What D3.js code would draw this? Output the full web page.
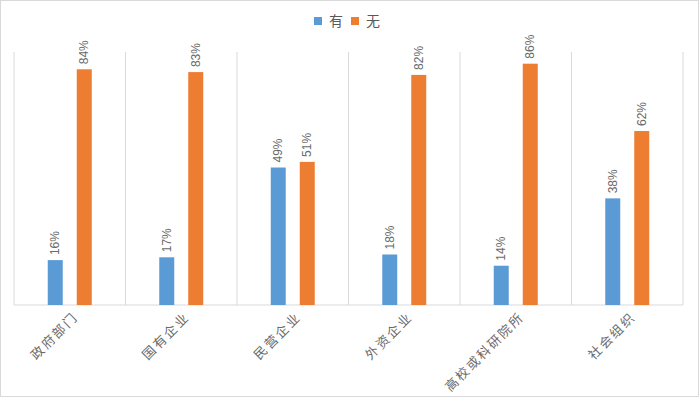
<!DOCTYPE html>
<html>
<head>
<meta charset="utf-8">
<script src="https://cdn.jsdelivr.net/npm/d3@7"></script>
<style>
  body { margin: 0; background: #fff; }
  text { fill: #595959; }
</style>
</head>
<body>
<div id="chart"></div>
<script>
// categories and two series (percent)
const categories = ["政府部门", "国有企业", "民营企业", "外资企业", "高校或科研院所", "社会组织"];
const seriesNames = ["有", "无"];
const youValues = [16, 17, 49, 18, 14, 38];
const wuValues = [84, 83, 51, 82, 86, 62];
const colors = ["#5B9BD5", "#ED7D31"];

const width = 700, height = 398;
const left = 14, right = 683, bottom = 305, gridTop = 52;

let svg = d3.select("#chart").append("svg")
    .attr("width", width)
    .attr("height", height);

// outer frame
svg.append("rect")
    .attr("x", 0.5).attr("y", 0.5)
    .attr("width", width - 2).attr("height", height - 2)
    .attr("fill", "#fff")
    .attr("stroke", "#d9d9d9");

let x = d3.scaleBand()
    .domain(categories)
    .range([left, right])
    .padding(0);

let x1 = d3.scaleBand()
    .domain(seriesNames)
    .range([0, x.bandwidth()])
    .paddingInner(0.483)
    .paddingOuter(1.164);

let y = d3.scaleLinear()
    .domain([0, 100])
    .range([bottom, bottom - 280.6]);

// vertical separators between categories
let seps = [left].concat(categories.map(c => x(c) + x.bandwidth()));
svg.selectAll(".sep")
    .data(seps)
    .enter().append("line")
    .attr("class", "sep")
    .attr("x1", d => d).attr("x2", d => d)
    .attr("y1", gridTop).attr("y2", bottom)
    .attr("stroke", "#d9d9d9");

svg.append("line")
    .attr("x1", left).attr("x2", right)
    .attr("y1", bottom).attr("y2", bottom)
    .attr("stroke", "#d9d9d9");

let rows = categories.map((c, i) => ({cat: c, vals: [youValues[i], wuValues[i]]}));

let groups = svg.selectAll(".grp")
    .data(rows)
    .enter().append("g")
    .attr("class", "grp")
    .attr("transform", d => "translate(" + x(d.cat) + ",0)");

let bars = groups.selectAll(".bar")
    .data(d => d.vals.map((v, j) => ({name: seriesNames[j], v: v, j: j})))
    .enter();

bars.append("rect")
    .attr("class", "bar")
    .attr("x", d => x1(d.name))
    .attr("width", x1.bandwidth())
    .attr("y", d => y(d.v))
    .attr("height", d => bottom - y(d.v))
    .attr("fill", d => colors[d.j]);

bars.append("text")
    .attr("transform", d => "translate(" + (x1(d.name) + x1.bandwidth() / 2 + 4) + "," + (y(d.v) - 5) + ")rotate(-90)")
    .attr("font-family", "'Liberation Sans Narrow', 'Liberation Sans', sans-serif")
    .attr("font-size", 12)
    .style("fill", "#6a6a6a")
    .text(d => d.v + "%");

// category labels rotated
svg.selectAll(".cat")
    .data(categories)
    .enter().append("text")
    .attr("class", "cat")
    .attr("text-anchor", "end")
    .attr("transform", d => "translate(" + (x(d) + x.bandwidth() / 2 + 9) + "," + 318 + ")rotate(-45)")
    .attr("font-family", "'Noto Sans CJK SC', sans-serif")
    .attr("font-size", 13)
    .attr("letter-spacing", 2)
    .style("fill", "#6a6a6a")
    .text(d => d);

// legend
let legend = svg.append("g").attr("transform", "translate(314,14)");
let li = legend.selectAll(".leg")
    .data(seriesNames)
    .enter().append("g")
    .attr("transform", (d, i) => "translate(" + (i * 37) + ",0)");
li.append("rect")
    .attr("y", 3)
    .attr("width", 8).attr("height", 8)
    .attr("fill", (d, i) => colors[i]);
li.append("text")
    .attr("x", 15).attr("y", 12)
    .attr("font-family", "'Noto Sans CJK SC', sans-serif")
    .attr("font-size", 14)
    .text(d => d);
</script>
</body>
</html>
